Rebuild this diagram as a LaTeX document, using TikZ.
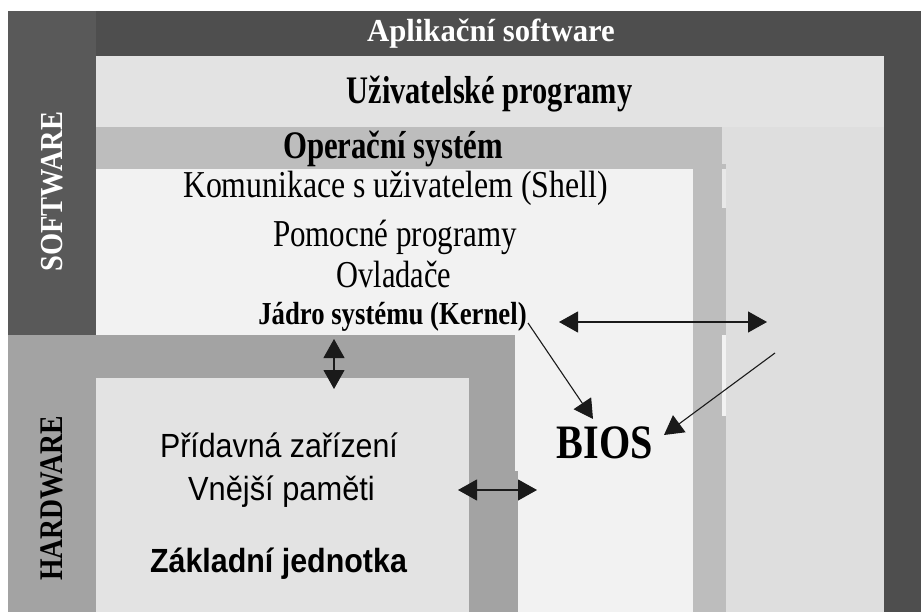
\documentclass[tikz,border=0pt]{standalone}
\usepackage{graphicx}
\usepackage{fontspec}
\setmainfont{Liberation Serif}
\newfontfamily\arialf{Liberation Sans}
\usetikzlibrary{arrows.meta}
\definecolor{cDark}{HTML}{4E4E4E}
\definecolor{cSoft}{HTML}{595959}
\definecolor{cHard}{HTML}{A3A3A3}
\definecolor{cUser}{HTML}{E3E3E3}
\definecolor{cRight}{HTML}{DEDEDE}
\definecolor{cOS}{HTML}{BDBDBD}
\definecolor{cPanel}{HTML}{F2F2F2}
\definecolor{cHwPanel}{HTML}{E3E3E3}
\definecolor{cArrow}{HTML}{1A1A1A}
\newcommand{\sz}[3]{{\fontsize{#1}{#1}\selectfont\scalebox{#2}[1]{#3}}}
\tikzset{
  lbl/.style={inner sep=0pt, outer sep=0pt, anchor=base},
  dbl/.style={{Triangle[length=19pt,width=21pt]}-{Triangle[length=19pt,width=21pt]}, line width=1.1pt, draw=cArrow},
  sgl/.style={-{Triangle[length=19pt,width=21pt]}, line width=1.1pt, draw=cArrow}
}
\begin{document}
\begin{tikzpicture}[x=1pt,y=-1pt]
\useasboundingbox (0,0) rectangle (921,612);
\fill[white] (0,0) rectangle (921,612);
% dark application software frame
\fill[cDark] (96,11) rectangle (921,612);
\fill[cSoft] (8,11) rectangle (96,335);
\fill[cHard] (8,335) rectangle (96,612);
% user programs band and right area
\fill[cUser] (96,56) rectangle (884,127);
\fill[cRight] (722,127) rectangle (884,612);
% operating system band and strip
\fill[cOS] (96,127) rectangle (722,169);
\fill[cOS] (693,164) rectangle (726,612);
\fill[cRight!70!white] (722,169) rectangle (726,208);
\fill[cPanel] (722,335) rectangle (726,416);
% inner OS panel
\fill[cPanel] (96,169) rectangle (693,335);
\fill[cPanel] (515,335) rectangle (693,612);
% hardware band and strip
\fill[cHard] (96,335) rectangle (515,378);
\fill[cHard] (469,378) rectangle (515,612);
\fill[cHard] (515,471) rectangle (518,612);
\fill[cHwPanel] (96,378) rectangle (469,612);

% texts
\node[lbl, text=white] (app) at (491,42) {\sz{32}{0.96}{\bfseries Aplikační software}};
\node[lbl] (user) at (489.5,104) {\sz{39}{0.78}{\bfseries Uživatelské programy}};
\node[lbl] (os) at (393,159) {\sz{39}{0.79}{\bfseries Operační systém}};
\node[lbl] (shell) at (395.5,198) {\sz{38}{0.837}{Komunikace s uživatelem (Shell)}};
\node[lbl] (util) at (395,247) {\sz{38}{0.817}{Pomocné programy}};
\node[lbl] (drv) at (394,288) {\sz{38}{0.8}{Ovladače}};
\node[lbl] (kernel) at (392.5,324) {\sz{32}{0.836}{\bfseries Jádro systému (Kernel)}};
\node[lbl] (periph) at (279,457) {\arialf\sz{33.5}{0.906}{Přídavná zařízení}};
\node[lbl] (ext) at (281.5,500) {\arialf\sz{33.5}{0.92}{Vnější paměti}};
\node[lbl] (base) at (278.5,572) {\arialf\sz{33.5}{0.908}{\bfseries Základní jednotka}};
\node[lbl] (bios) at (605,458) {\sz{48}{0.837}{\bfseries BIOS}};
\node[lbl, rotate=90, text=white] (sw) at (62,191.5) {\sz{32}{0.89}{\bfseries SOFTWARE}};
\node[lbl, rotate=90, text=black] (hw) at (62.5,498.5) {\sz{33}{0.84}{\bfseries HARDWARE}};

% connector end points
\coordinate (v1) at (334,339);
\coordinate (v2) at (334,389);
\coordinate (h1) at (559,322);
\coordinate (h2) at (767,322);
\coordinate (l1) at (458,490);
\coordinate (l2) at (537,490);
\coordinate (k1) at (528,323);
\coordinate (k2) at (593,419);
\coordinate (r1) at (775,353);
\coordinate (r2) at (664,435);

\draw[dbl] (v1) -- (v2);
\draw[dbl] (h1) -- (h2);
\draw[dbl] (l1) -- (l2);
\draw[sgl] (k1) -- (k2);
\draw[sgl] (r1) -- (r2);
\end{tikzpicture}
\end{document}
